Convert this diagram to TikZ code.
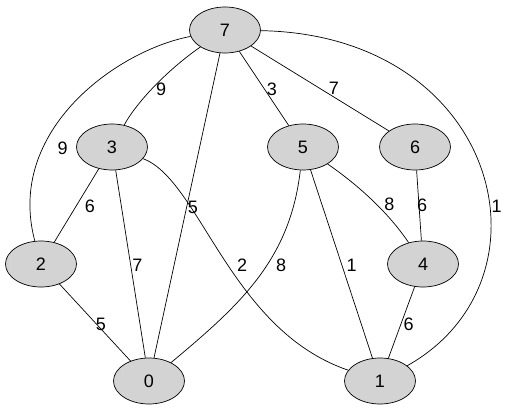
\documentclass[tikz,border=0pt]{standalone}
\usepackage{fontspec}
\setmainfont{Liberation Sans}
\usepackage{xcolor}
\usetikzlibrary{shapes.geometric, positioning}
\definecolor{vgray}{RGB}{211,211,211}
\tikzset{
  vertex/.style = {ellipse, draw, fill=vgray, line width=0.7pt,
    minimum width=71pt, minimum height=46pt, inner sep=0pt,
    font=\fontsize{18}{20}\selectfont},
  wt/.style   = {inner sep=0pt, font=\fontsize{18}{20}\selectfont},
  edge/.style = {line width=0.7pt},
}
\begin{document}
\begin{tikzpicture}[x=1pt, y=-1pt]
  \useasboundingbox (0,0) rectangle (511,411);

  % Vertices
  \node[vertex] (n7) at (225,30)  {7};
  \node[vertex] (n3) at (112,147) {3};
  \node[vertex] (n5) at (303,147) {5};
  \node[vertex] (n6) at (415,147) {6};
  \node[vertex] (n2) at (41,264)  {2};
  \node[vertex] (n4) at (423,264) {4};
  \node[vertex] (n0) at (149,381) {0};
  \node[vertex] (n1) at (380,381) {1};

  % Straight edges
  \draw[edge] (n7) -- node[wt, xshift=14pt] (w76) {7} (n6);
  \draw[edge] (n7) -- node[wt, xshift=8pt, yshift=-1pt] (w75) {3} (n5);
  \draw[edge] (n7) -- node[wt, xshift=6pt, yshift=-1.5pt] (w70) {5} (n0);
  \draw[edge] (n3) -- node[wt, xshift=7pt, yshift=-1.5pt] (w30) {7} (n0);
  \draw[edge] (n3) -- node[wt, xshift=13.5pt, yshift=-1pt] (w32) {6} (n2);
  \draw[edge] (n5) -- node[wt, xshift=10pt, yshift=-1pt] (w51) {1} (n1);
  \draw[edge] (n6) -- node[wt, xshift=3pt] (w64) {6} (n4);
  \draw[edge] (n4) -- node[wt, xshift=7pt, yshift=-2pt] (w41) {6} (n1);
  \draw[edge] (n2) -- node[wt, xshift=6pt, yshift=-1.5pt] (w20) {5} (n0);

  % Curved edges
  \draw[edge] (n7) .. controls (170,68) and (138,100) .. (n3)
    node[wt, pos=.5, xshift=5pt, yshift=-5pt] (w73) {9};
  \draw[edge] (n5) .. controls (358,185) and (388,212) .. (n4)
    node[wt, pos=.5, xshift=17.5pt, yshift=-5pt] (w54) {8};
  \draw[edge] (n7) .. controls (118,50) and (5,130) .. (n2)
    node[wt, pos=.7, xshift=21pt, yshift=2pt] (w72) {9};
  \draw[edge] (n7) .. controls (500,35) and (560,280) .. (n1)
    node[wt, pos=.6, xshift=6pt, yshift=5.5pt] (w71) {1};
  \draw[edge] (n3) .. controls (200,180) and (230,330) .. (n1)
    node[wt, pos=.5, xshift=19.5pt, yshift=-7.5pt] (w31) {2};
  \draw[edge] (n5) .. controls (290,260) and (240,305) .. (n0)
    node[wt, pos=.45, xshift=17pt, yshift=4.5pt] (w50) {8};

\end{tikzpicture}
\end{document}
